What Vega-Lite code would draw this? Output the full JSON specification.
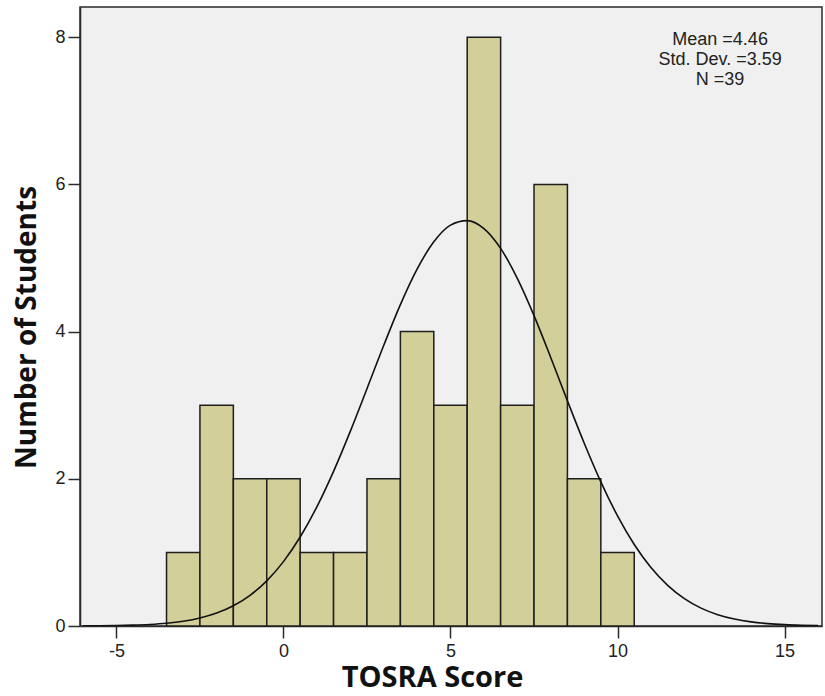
{
  "$schema": "https://vega.github.io/schema/vega-lite/v6.json",
  "width": 742,
  "height": 619,
  "autosize": {"type": "none"},
  "padding": {"left": 80, "top": 7, "right": 3, "bottom": 70},
  "background": "white",
  "config": {
    "view": {"fill": "#f0f0f0", "stroke": "#2a2a2a", "strokeWidth": 1.5},
    "axis": {
      "grid": false,
      "domainColor": "#2a2a2a",
      "domainWidth": 1.5,
      "tickColor": "#2a2a2a",
      "tickWidth": 1.5,
      "tickSize": 12,
      "labelFont": "Liberation Sans",
      "labelFontSize": 18,
      "labelColor": "#222",
      "labelExpr": "'' + datum.value",
      "titleFont": "Open Sans",
      "titleFontWeight": "bold",
      "titleColor": "#111",
      "titleBaseline": "alphabetic",
      "titleAlign": "center"
    }
  },
  "datasets": {
    "bars": [
      {"lo": -3.5, "hi": -2.5, "count": 1},
      {"lo": -2.5, "hi": -1.5, "count": 3},
      {"lo": -1.5, "hi": -0.5, "count": 2},
      {"lo": -0.5, "hi": 0.5, "count": 2},
      {"lo": 0.5, "hi": 1.5, "count": 1},
      {"lo": 1.5, "hi": 2.5, "count": 1},
      {"lo": 2.5, "hi": 3.5, "count": 2},
      {"lo": 3.5, "hi": 4.5, "count": 4},
      {"lo": 4.5, "hi": 5.5, "count": 3},
      {"lo": 5.5, "hi": 6.5, "count": 8},
      {"lo": 6.5, "hi": 7.5, "count": 3},
      {"lo": 7.5, "hi": 8.5, "count": 6},
      {"lo": 8.5, "hi": 9.5, "count": 2},
      {"lo": 9.5, "hi": 10.5, "count": 1}
    ],
    "curve": [
      {"x": -6, "y": 0.0016}, {"x": -5.5, "y": 0.0032}, {"x": -5, "y": 0.0062},
      {"x": -4.5, "y": 0.0117}, {"x": -4, "y": 0.0214}, {"x": -3.5, "y": 0.0379},
      {"x": -3, "y": 0.0652}, {"x": -2.5, "y": 0.1087}, {"x": -2, "y": 0.1756},
      {"x": -1.5, "y": 0.2749}, {"x": -1, "y": 0.4172}, {"x": -0.5, "y": 0.6138},
      {"x": 0, "y": 0.8745}, {"x": 0.5, "y": 1.209}, {"x": 1, "y": 1.619},
      {"x": 1.5, "y": 2.101}, {"x": 2, "y": 2.644}, {"x": 2.5, "y": 3.224},
      {"x": 3, "y": 3.811}, {"x": 3.5, "y": 4.367}, {"x": 4, "y": 4.849},
      {"x": 4.5, "y": 5.22}, {"x": 5, "y": 5.447}, {"x": 5.5, "y": 5.508},
      {"x": 6, "y": 5.399}, {"x": 6.5, "y": 5.13}, {"x": 7, "y": 4.724},
      {"x": 7.5, "y": 4.217}, {"x": 8, "y": 3.648}, {"x": 8.5, "y": 3.059},
      {"x": 9, "y": 2.487}, {"x": 9.5, "y": 1.959}, {"x": 10, "y": 1.496},
      {"x": 10.5, "y": 1.107}, {"x": 11, "y": 0.794}, {"x": 11.5, "y": 0.552},
      {"x": 12, "y": 0.3722}, {"x": 12.5, "y": 0.2432}, {"x": 13, "y": 0.154},
      {"x": 13.5, "y": 0.0945}, {"x": 14, "y": 0.0562}, {"x": 14.5, "y": 0.0324},
      {"x": 15, "y": 0.0181}, {"x": 15.5, "y": 0.0098}, {"x": 16, "y": 0.0052}
    ]
  },
  "layer": [
    {
      "data": {"name": "bars"},
      "mark": {"type": "rect", "fill": "#d3cf98", "stroke": "#1e1e1e", "strokeWidth": 1.5},
      "encoding": {
        "x": {
          "field": "lo", "type": "quantitative",
          "scale": {"domain": [-6.09, 16.12], "nice": false, "zero": false},
          "axis": {"values": [-5, 0, 5, 10, 15], "title": "TOSRA Score", "labelPadding": 4,
                   "titleFontSize": 29, "titleX": 352, "titleY": 60}
        },
        "x2": {"field": "hi"},
        "y": {
          "field": "count", "type": "quantitative",
          "scale": {"domain": [0, 8.41], "nice": false},
          "axis": {"values": [0, 2, 4, 6, 8], "title": "Number of Students", "labelPadding": 3,
                   "titleFontSize": 28, "titleX": -45, "titleY": 320}
        },
        "y2": {"datum": 0}
      }
    },
    {
      "data": {"name": "curve"},
      "mark": {"type": "line", "color": "#111", "strokeWidth": 1.6, "interpolate": "monotone", "clip": true},
      "encoding": {
        "x": {"field": "x", "type": "quantitative"},
        "y": {"field": "y", "type": "quantitative"}
      }
    },
    {
      "data": {"values": [{}]},
      "mark": {"type": "text", "font": "Liberation Sans", "fontSize": 18, "color": "#222", "align": "center", "baseline": "alphabetic", "lineHeight": 20},
      "encoding": {
        "x": {"datum": 13.07},
        "y": {"datum": 7.896},
        "text": {"value": ["Mean =4.46", "Std. Dev. =3.59", "N =39"]}
      }
    }
  ]
}
